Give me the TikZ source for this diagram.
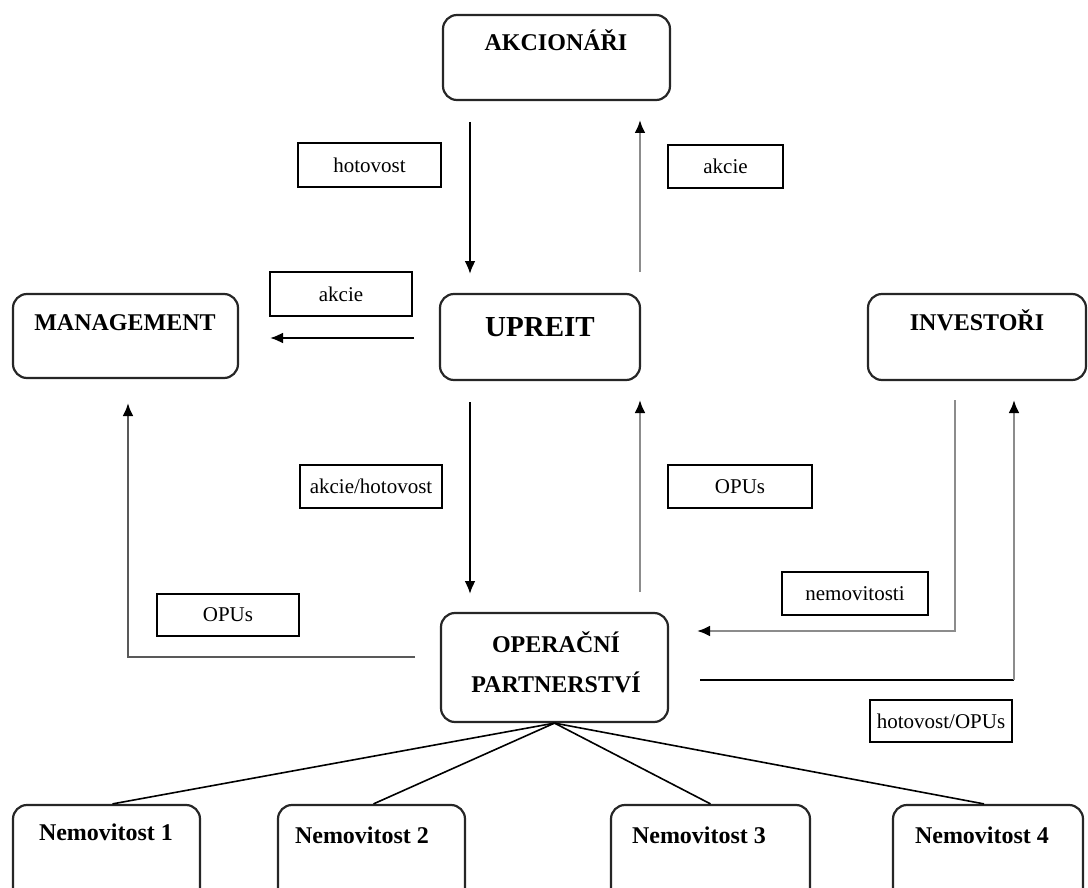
\documentclass[tikz,border=0pt]{standalone}
\usepackage{fontspec}
\setmainfont{Liberation Serif}
\usetikzlibrary{arrows.meta}
\tikzset{
  rbox/.style={draw=black!85, line width=2.2pt, rounded corners=14pt, inner sep=0pt, fill=white},
  btext/.style={font=\bfseries\fontsize{24}{26}\selectfont, anchor=base, inner sep=0pt},
  lbl/.style={draw=black, line width=2.2pt, inner sep=0pt, font=\fontsize{21}{23}\selectfont, fill=white},
  tip/.style={-{Latex[length=13pt,width=11pt,color=black]}},
  blk/.style={draw=black, line width=2.2pt, tip},
  gry/.style={draw=black!45, line width=2.6pt, tip},
  fan/.style={draw=black, line width=1.6pt}
}
\begin{document}
\begin{tikzpicture}[x=1pt,y=-1pt]
\useasboundingbox (0,0) rectangle (1088,888);
\clip (0,0) rectangle (1088,888);
% boxes
\node[rbox, minimum width=227pt, minimum height=85pt] (akc) at (556.5,57.5) {};
\node[btext] (akct) at (556,51) {AKCIONÁŘI};
\node[rbox, minimum width=225pt, minimum height=84pt] (man) at (125.5,336) {};
\node[btext] (mant) at (125,330) {MANAGEMENT};
\node[rbox, minimum width=200pt, minimum height=86pt] (upr) at (540,337) {};
\node[btext, font=\bfseries\fontsize{29}{31}\selectfont] (uprt) at (540,336) {UPREIT};
\node[rbox, minimum width=218pt, minimum height=86pt] (inv) at (977,337) {};
\node[btext] (invt) at (977,330) {INVESTOŘI};
\node[rbox, minimum width=227pt, minimum height=109pt] (op) at (554.5,667.5) {};
\node[btext] (opt1) at (556,652) {OPERAČNÍ};
\node[btext] (opt2) at (556,692) {PARTNERSTVÍ};
\node[rbox, minimum width=187pt, minimum height=100pt] (n1) at (106.5,855) {};
\node[btext] (n1t) at (106,840) {Nemovitost 1};
\node[rbox, minimum width=187pt, minimum height=100pt] (n2) at (371.5,855) {};
\node[btext] (n2t) at (362,843) {Nemovitost 2};
\node[rbox, minimum width=199pt, minimum height=100pt] (n3) at (710.5,855) {};
\node[btext] (n3t) at (699,843) {Nemovitost 3};
\node[rbox, minimum width=190pt, minimum height=100pt] (n4) at (988,855) {};
\node[btext] (n4t) at (982,843) {Nemovitost 4};
% labels
\node[lbl, minimum width=143pt, minimum height=44pt] (l1) at (369.5,165) {hotovost};
\node[lbl, minimum width=115pt, minimum height=43pt] (l2) at (725.5,166.5) {akcie};
\node[lbl, minimum width=142pt, minimum height=44pt] (l3) at (341,294) {akcie};
\node[lbl, minimum width=142pt, minimum height=43pt] (l4) at (371,486.5) {akcie/hotovost};
\node[lbl, minimum width=144pt, minimum height=43pt] (l5) at (740,486.5) {OPUs};
\node[lbl, minimum width=142pt, minimum height=42pt] (l6) at (228,615) {OPUs};
\node[lbl, minimum width=146pt, minimum height=43pt] (l7) at (855,593.5) {nemovitosti};
\node[lbl, minimum width=142pt, minimum height=42pt] (l8) at (941,721) {hotovost/OPUs};
% coordinates
\coordinate (a1s) at (470,122);
\coordinate (a1e) at (470,274);
\coordinate (a2s) at (640,272);
\coordinate (a2e) at (640,120);
\coordinate (a3s) at (414,338);
\coordinate (a3e) at (270,338);
\coordinate (a4s) at (470,402);
\coordinate (a4e) at (470,594);
\coordinate (a5s) at (640,592);
\coordinate (a5e) at (640,400);
\coordinate (a6s) at (415,657);
\coordinate (a6c) at (128,657);
\coordinate (a6e) at (128,403);
\coordinate (a7s) at (955,400);
\coordinate (a7c) at (955,631);
\coordinate (a7e) at (697,631);
\coordinate (a8s) at (700,680);
\coordinate (a8c) at (1014,680);
\coordinate (a8e) at (1014,400);
% connectors
\draw[blk] (a1s) -- (a1e);
\draw[gry] (a2s) -- (a2e);
\draw[blk] (a3s) -- (a3e);
\draw[blk] (a4s) -- (a4e);
\draw[gry] (a5s) -- (a5e);
\draw[gry, draw=black!65] (a6s) -- (a6c) -- (a6e);
\draw[gry] (a7s) -- (a7c) -- (a7e);
\draw[draw=black, line width=2.2pt] (a8s) -- (a8c);
\draw[gry] (a8c) -- (a8e);
% fan
\draw[fan] (op.south) -- ([xshift=6pt]n1.north);
\draw[fan] (op.south) -- ([xshift=2pt]n2.north);
\draw[fan] (op.south) -- (n3.north);
\draw[fan] (op.south) -- ([xshift=-4pt]n4.north);
\end{tikzpicture}
\end{document}
